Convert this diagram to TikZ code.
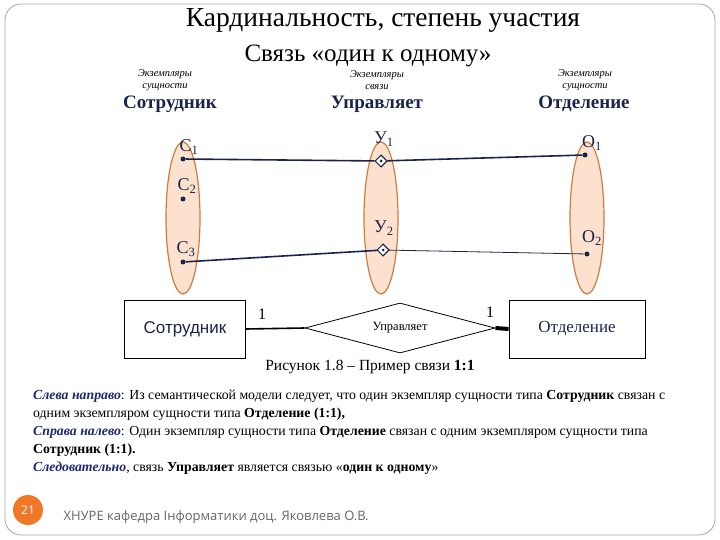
\documentclass[tikz,border=0pt]{standalone}
\usepackage{fontspec}
\setmainfont{Liberation Serif}
\newfontfamily\sansf{Liberation Sans}
\newfontfamily\footf{Open Sans}
\usetikzlibrary{shapes.geometric}
\definecolor{navy}{RGB}{25,35,75}
\definecolor{peach}{RGB}{252,226,206}
\definecolor{ellstroke}{RGB}{205,125,65}
\definecolor{ital}{RGB}{30,40,110}
\definecolor{orng}{RGB}{240,120,40}
\newcommand{\fs}[1]{\fontsize{#1}{#1}\selectfont}
\begin{document}
\begin{tikzpicture}[x=1pt,y=-1pt,
 inst/.style={ellipse,draw=ellstroke,fill=peach,line width=1.2pt,minimum width=34pt,minimum height=152pt,inner sep=0},
 dot/.style={circle,fill=navy,inner sep=0,minimum size=5pt},
 rdia/.style={diamond,draw=navy,line width=1pt,fill=white,inner sep=0,minimum size=12pt},
 lbl/.style={font=\fs{18},text=navy},
 small/.style={font=\itshape\fontsize{10.5}{12}\selectfont,align=center},
 head/.style={font=\bfseries\fs{19},text=navy},
 link/.style={navy,line width=1.6pt},
 ent/.style={draw,line width=0.8pt,minimum width=121pt,minimum height=58pt},
 para/.style={anchor=west,font=\fs{13.8},inner sep=0}]
\useasboundingbox (0,0) rectangle (720,540);
\draw[gray!70,line width=0.8pt,rounded corners=16] (5,4) rectangle (715,535);
\node (t1) at (383,20) {\fs{27.5}Кардинальность, степень участия};
\node (t2) at (368,56) {\fs{25}Связь «один к одному»};
\node[small] (s1) at (165,80) {Экземпляры\\сущности};
\node[small] (s2) at (377,80) {Экземпляры\\связи};
\node[small] (s3) at (585,80) {Экземпляры\\сущности};
\node[head] (h1) at (170,104) {Сотрудник};
\node[head] (h2) at (377,104) {Управляет};
\node[head] (h3) at (584,104) {Отделение};
\node[inst] (e1) at (183,218) {};
\node[inst] (e2) at (381,218) {};
\node[inst] (e3) at (587,218) {};
\node[dot] (c1) at (183,159) {};
\node[dot] (c2) at (183,199) {};
\node[dot] (c3) at (183,262) {};
\node[dot] (o1) at (585,155) {};
\node[dot] (o2) at (587,254) {};
\node[rdia] (u1) at (381,161) {};
\node[rdia] (u2) at (383,250) {};
\node[lbl] (lc1) at (189,147) {С\textsubscript{1}};
\node[lbl] (lc2) at (187,186) {С\textsubscript{2}};
\node[lbl] (lc3) at (186,249) {С\textsubscript{3}};
\node[lbl] (lu1) at (384,139) {У\textsubscript{1}};
\node[lbl] (lu2) at (384,228) {У\textsubscript{2}};
\node[lbl] (lo1) at (592,143) {О\textsubscript{1}};
\node[lbl] (lo2) at (592,238) {О\textsubscript{2}};
\draw[link] (c1) -- (u1);
\draw[link] (u1) -- (o1);
\draw[link] (c3) -- (u2);
\draw[navy,line width=0.8pt] (u2) -- (o2);
\node[rdia] at (u1) {};\node[dot,minimum size=3pt] at (u1) {};
\node[rdia] at (u2) {};\node[dot,minimum size=3pt] at (u2) {};
\node[ent,font=\sansf\fs{17},text=navy] (E1) at (185,329) {Сотрудник};
\node[ent,minimum width=136pt,font=\fs{17},text=navy] (E2) at (577,329) {Отделение};
\node[diamond,draw,line width=0.8pt,aspect=3.8,minimum width=190pt,minimum height=50pt,inner sep=0,font=\fs{12.5}] (R) at (400,328) {Управляет};
\draw[line width=1.6pt] (E1.east) -- (R.west);
\draw[line width=4pt] (R.east) -- (E2.west);
\node (n1) at (262,314) {\fs{16}1};
\node (n2) at (490,312) {\fs{16}1};
\node (cap) at (370,367) {\fs{15.5}Рисунок 1.8 – Пример связи \textbf{1:1}};
\node[para] (p1) at (33,396) {\textcolor{ital}{\textbf{\textit{Слева направо}}}: Из семантической модели следует, что один экземпляр сущности типа \textbf{Сотрудник} связан с};
\node[para] (p2) at (33,414) {одним экземпляром сущности типа \textbf{Отделение (1:1),}};
\node[para] (p3) at (33,432) {\textcolor{ital}{\textbf{\textit{Справа налево}}}: Один экземпляр сущности типа \textbf{Отделение} связан с одним экземпляром сущности типа};
\node[para] (p4) at (33,450) {\textbf{Сотрудник (1:1).}};
\node[para] (p5) at (33,468) {\textcolor{ital}{\textbf{\textit{Следовательно}}}, связь \textbf{Управляет} является связью «\textbf{один к одному}»};
\node[circle,fill=orng,minimum size=30pt,inner sep=0,text=white,font=\footf\fs{12}] (pg) at (28,510) {21};
\node[anchor=west,text=gray!80!black,font=\footf\fs{13}] (ft) at (60,517) {ХНУРЕ кафедра Інформатики доц. Яковлева О.В.};
\end{tikzpicture}
\end{document}
